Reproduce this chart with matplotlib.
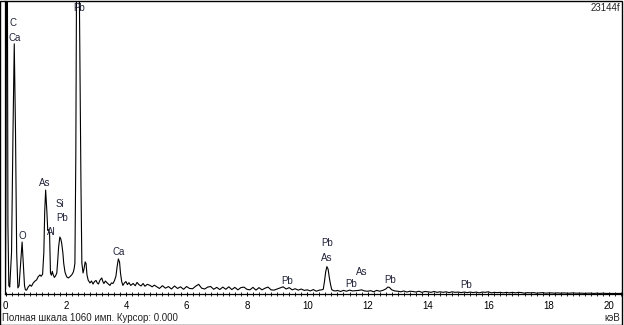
import matplotlib
matplotlib.use('Agg')
import matplotlib.pyplot as plt
from matplotlib.patches import Rectangle
from matplotlib.ticker import MultipleLocator

plt.rcParams['font.family'] = ['Liberation Sans', 'DejaVu Sans']

# EDS spectrum: energy (keV) and counts
energy_low = [0.00, 0.02, 0.04, 0.06, 0.08, 0.11, 0.14, 0.20, 0.25, 0.29,
              0.33, 0.37, 0.41, 0.45, 0.50, 0.55, 0.59, 0.63, 0.66, 0.70,
              0.75, 0.81, 0.86, 0.92, 0.97, 1.03, 1.08, 1.14, 1.18, 1.23,
              1.27, 1.30, 1.33, 1.37, 1.40, 1.43, 1.46, 1.49, 1.52, 1.55,
              1.58, 1.62, 1.66, 1.70, 1.73, 1.76, 1.80, 1.83, 1.86, 1.90,
              1.93, 1.97, 2.00, 2.03, 2.08, 2.14, 2.20, 2.25, 2.28, 2.30,
              2.33, 2.36, 2.40, 2.43, 2.47, 2.50, 2.53, 2.57, 2.60, 2.64,
              2.67, 2.70, 2.74, 2.80, 2.85, 2.90, 2.95, 3.00, 3.04, 3.08,
              3.13, 3.19, 3.23, 3.26, 3.31, 3.36, 3.41, 3.46, 3.51, 3.56,
              3.61, 3.66, 3.70, 3.74, 3.78, 3.81, 3.85, 3.89, 3.94, 3.99,
              4.04, 4.09, 4.15, 4.23, 4.30, 4.36, 4.42, 4.49, 4.56, 4.62,
              4.70, 4.79, 4.86, 4.93]
counts_low = [20, 500, 1300, 1300, 250, 30, 25, 150, 600, 905,
              600, 150, 22, 30, 110, 188, 110, 30, 15, 14,
              25, 33, 28, 40, 46, 51, 62, 69, 64, 72,
              150, 300, 376, 300, 230, 232, 220, 76, 68, 82,
              70, 60, 66, 76, 120, 170, 206, 200, 185, 150,
              110, 80, 70, 62, 58, 63, 70, 80, 95, 112,
              500, 1300, 1300, 1300, 800, 400, 112, 76, 90, 116,
              110, 69, 50, 40, 47, 36, 45, 49, 40, 36,
              50, 58, 44, 38, 47, 41, 36, 31, 40, 38,
              48, 65, 100, 127, 115, 76, 45, 31, 40, 45,
              34, 41, 31, 38, 30, 42, 34, 29, 38, 28,
              35, 31, 26, 32]

energy_high = [5.0, 5.1, 5.2, 5.3, 5.4, 5.5, 5.6, 5.7, 5.8, 5.9,
               6.0, 6.1, 6.2, 6.3, 6.4, 6.5, 6.6, 6.7, 6.8, 6.9,
               7.0, 7.1, 7.2, 7.3, 7.4, 7.5, 7.6, 7.7, 7.8, 7.9,
               8.0, 8.1, 8.2, 8.3, 8.4, 8.5, 8.6, 8.7, 8.8, 8.9,
               9.0, 9.1, 9.2, 9.3, 9.4, 9.5, 9.6, 9.7, 9.8, 9.9,
               10.0, 10.1, 10.2, 10.3, 10.4, 10.48, 10.53, 10.57, 10.61, 10.65,
               10.69, 10.73, 10.77, 10.81, 10.87, 10.95, 11.0, 11.1, 11.2, 11.3,
               11.4, 11.5, 11.6, 11.7, 11.8, 11.9, 12.0, 12.1, 12.2, 12.3,
               12.4, 12.5, 12.6, 12.67, 12.72, 12.8, 12.9, 13.0, 13.1, 13.2,
               13.3, 13.4, 13.5, 13.6, 13.7, 13.8, 13.9, 14.0, 14.1, 14.2,
               14.3, 14.4, 14.5, 14.6, 14.7, 14.8, 14.9, 15.0, 15.1, 15.2,
               15.3, 15.4, 15.5, 15.6, 15.7, 15.8, 15.9, 16.0, 16.1, 16.2,
               16.3, 16.4, 16.5, 16.6, 16.7, 16.8, 16.9, 17.0, 17.1, 17.2,
               17.3, 17.4, 17.5, 17.6, 17.7, 17.8, 17.9, 18.0, 18.1, 18.2,
               18.3, 18.4, 18.5, 18.6, 18.7, 18.8, 18.9, 19.0, 19.1, 19.2,
               19.3, 19.4, 19.5, 19.6, 19.7, 19.8, 19.9, 20.0, 20.1, 20.2,
               20.3, 20.43]
counts_high = [27, 20, 30, 21, 27, 18, 29, 20, 26, 17,
               27, 20, 19, 28, 35, 21, 18, 25, 27, 17,
               24, 16, 25, 17, 26, 16, 24, 15, 23, 25,
               17, 15, 24, 14, 23, 15, 21, 25, 15, 14,
               18, 22, 26, 18, 23, 15, 19, 14, 18, 13,
               15, 11, 16, 10, 14, 15, 17, 45, 80, 99,
               90, 60, 35, 16, 12, 11, 13, 9, 13, 10,
               14, 11, 12, 13, 15, 11, 10, 12, 8, 13,
               10, 13, 18, 25, 24, 15, 11, 10, 8, 11,
               7, 10, 9, 7, 10, 6, 9, 8, 6, 9,
               6, 8, 6, 8, 5, 8, 6, 7, 5, 7,
               5, 7, 5, 7, 4, 7, 6, 8, 4, 6,
               5, 6, 4, 6, 4, 6, 4, 6, 5, 3,
               5, 4, 5, 3, 4, 5, 3, 4, 4, 3,
               4, 3, 4, 3, 3, 4, 3, 3, 3, 2,
               3, 3, 2, 3, 2, 3, 2, 2, 2, 2,
               2, 2]

# element labels: text, energy (keV), height (counts) of label centre
label_text = ['C', 'Ca', 'Pb', 'As', 'Si', 'Pb', 'Al', 'O', 'Ca',
              'Pb', 'As', 'Pb', 'Pb', 'As', 'Pb', 'Pb']
label_energy = [0.25, 0.31, 2.44, 1.31, 1.81, 1.87, 1.51, 0.55, 3.76,
                10.66, 10.66, 9.33, 11.45, 11.82, 12.74, 15.26]
label_counts = [980, 926, 1035, 402, 326, 275, 224, 210, 152,
                185, 130, 47, 36, 80, 51, 33]

full_scale = 1060

fig = plt.figure(figsize=(6.24, 3.25), dpi=100)
ax = fig.add_axes([0.008, 0.0954, 0.9888, 0.9015])

ax.plot(energy_low + energy_high, counts_low + counts_high, color='black', lw=0.8)

for t, e, c in zip(label_text, label_energy, label_counts):
    ax.text(e, c, t, ha='center', va='center', fontsize=7, color='#22243a')

ax.set_xlim(-0.017, 20.43)
ax.set_ylim(0, full_scale)
ax.spines['top'].set_visible(False)
ax.spines['right'].set_visible(False)
ax.spines['left'].set_linewidth(0.9)
ax.spines['bottom'].set_linewidth(0.9)
ax.set_yticks([])
ax.xaxis.set_major_locator(MultipleLocator(2))
ax.xaxis.set_minor_locator(MultipleLocator(0.2))
ax.tick_params(axis='x', which='major', direction='inout', length=3.5, width=0.7,
               pad=3, labelsize=7)
ax.tick_params(axis='x', which='minor', direction='inout', length=2.8, width=0.6)
ax.set_xticklabels([f'{int(v)}' for v in ax.get_xticks()])

fig.text(0.994, 0.976, '23144f', ha='right', va='center', fontsize=7, color='#222222')
fig.text(0.003, 0.022, 'Полная шкала 1060 имп. Курсор: 0.000', ha='left', va='center',
         fontsize=7, color='#222222')
fig.text(0.994, 0.022, 'кэВ', ha='right', va='center', fontsize=7, color='#222222')

fig.patches.append(Rectangle((0.0008, 0.0015), 0.9962, 0.995, transform=fig.transFigure,
                             fill=False, lw=1.0, edgecolor='black'))

fig.savefig('out.png', dpi=100)
